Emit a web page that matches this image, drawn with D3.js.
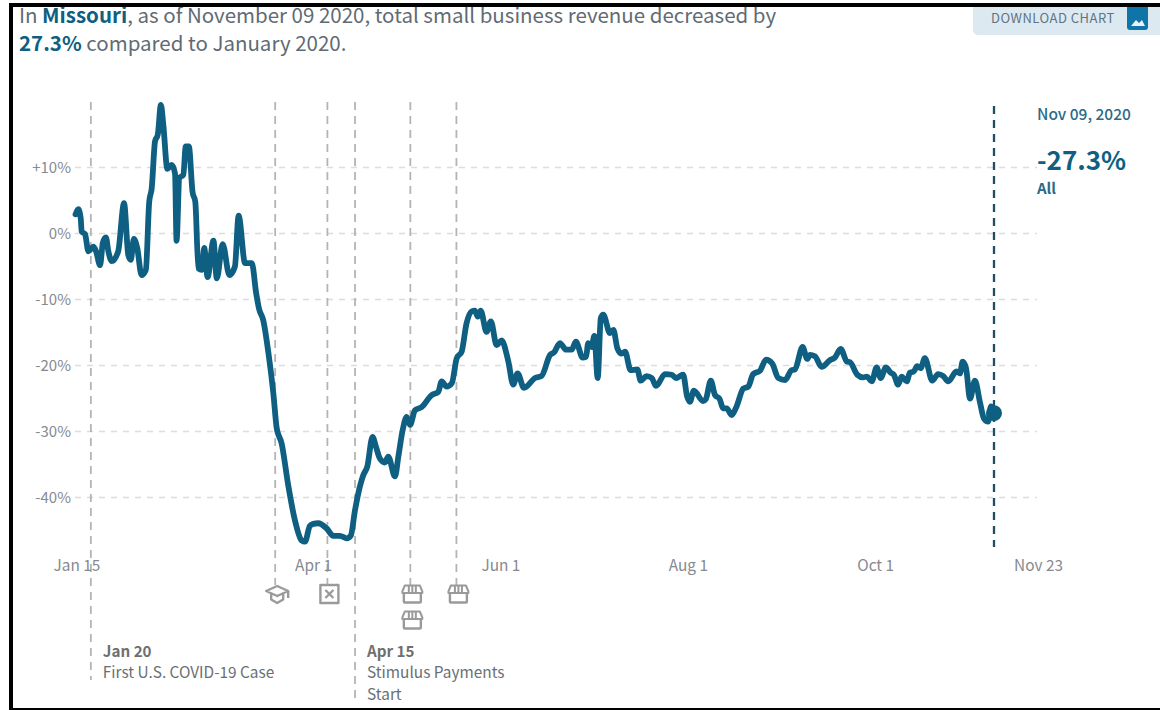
<!DOCTYPE html>
<html><head><meta charset="utf-8">
<script src="https://cdn.jsdelivr.net/npm/d3@7"></script>
<style>
html,body{margin:0;padding:0;background:#fff;overflow:hidden}
svg{display:block}
text{font-family:"Noto Sans CJK SC","Noto Sans",sans-serif}
</style></head><body>
<svg id="c" width="1160" height="710"></svg>
<script>
const dayOffsets=[0,0.9,1.7,2,3.1,4.2,5.8,6.7,8,8.9,9.9,10.7,11.8,13.9,15.8,17.2,18,19,20.1,21.5,22.9,24,24.8,25.9,26.8,27.8,28.6,29.9,31.3,32.4,32.9,33.8,35.1,35.9,36.9,38.1,39,40,41.1,41.9,43,44.9,46,47.9,50.1,51.9,53.1,55.2,57.4,58.8,59.8,61.1,62.8,64.4,65.5,67.1,69.3,71.4,73.6,74.7,76.3,77.4,79,81.8,83.9,86.1,88.3,89.6,91,92.6,93.7,95,96.7,97.8,99.1,100.7,101.8,104,105.1,106.5,107.8,108.9,110.5,112.7,115.9,118.1,119.2,120.8,122.5,124.1,125.7,127.3,129,130,131,131.9,133.8,135.2,137.1,138.7,140.9,142.5,143.9,146,149.6,151.7,154.5,155.8,157.7,159.7,161.5,162.9,165.1,166.2,166.9,168,168.9,170,171,171.8,174,175.1,176.4,177.8,178.9,180.7,182.9,184,185.9,187.6,189,191.9,194.1,195.5,197.8,199.1,200,201.3,204.3,205.2,206.8,208.2,209.6,210.9,212,213.6,215.2,217.4,219,220.6,222.8,224.8,226.8,228.8,231,233.1,234.2,236.7,238.2,239.1,240.7,242.9,245.6,247.2,249.1,251.1,252.1,254.5,256.4,257.7,259.2,260.8,262.1,263.8,265.4,266.4,267.8,268.9,270.6,271.6,272.9,274,275.1,276.5,278.9,280.8,282.5,284.1,286.8,287.9,288.8,289.9,291.2,292.8,294.4,295.7,297.1,298,299];
const revenueChange=[2.9,3.7,2.3,0.3,-0.1,-2.7,-2,-2.7,-4.8,-1.4,-0.6,-2.7,-4.2,-2.7,4.6,-3.3,-4,-0.8,-2.2,-6.3,-5.5,4.8,6.8,14,15,19.5,16.4,9.8,10.4,9.1,-1.1,8.4,8.9,13.2,13.2,6.3,4.8,-5.3,-5.5,-2.2,-6.6,-1.1,-6.8,-1.6,-6.3,-5,2.7,-4.5,-4.5,-9,-11.5,-13.1,-18.1,-24.2,-29.5,-31.8,-38.3,-43.4,-46.5,-46.7,-44.3,-44,-43.9,-44.7,-45.8,-45.8,-46.2,-45.8,-41.9,-38.3,-36.6,-35.3,-30.8,-32.3,-34.1,-34.7,-33.8,-36.8,-33.8,-29.8,-27.8,-29,-26.8,-26.3,-24.5,-24,-22.4,-23.2,-22.7,-18.9,-17.9,-13.6,-11.8,-11.7,-12.6,-11.7,-14.9,-13.3,-16.9,-16.2,-19.4,-22.9,-21.2,-23.4,-21.9,-21.6,-18.4,-18,-16.6,-17.6,-17.6,-16.4,-18.8,-18.7,-16.6,-17.2,-15.5,-21.9,-12.8,-12.3,-15.1,-14.6,-17.4,-18.2,-17.9,-20.7,-20.6,-22.3,-21.6,-21.9,-23.1,-21.3,-21.4,-21.9,-21.4,-24.7,-25.5,-23.8,-25.4,-25.1,-22.3,-24.5,-25,-26.5,-26.5,-27.5,-26.2,-23.5,-23.2,-21.3,-20.8,-19.1,-19.7,-21.9,-22.2,-20.7,-20.6,-17.2,-19,-18.4,-18.6,-20.2,-19.2,-18.8,-17.5,-19.4,-19.5,-21.4,-21.8,-21.7,-22.4,-20.3,-21.9,-20.3,-21.1,-21.4,-22.9,-21.7,-22.4,-21.1,-20.9,-20.1,-20.4,-18.9,-22.3,-21.3,-21.6,-22.4,-20.9,-21.2,-19.4,-20.4,-25,-22.3,-25.5,-28,-28.5,-26.2,-27.3];
const xTickDates=["2020-01-15","2020-04-01","2020-06-01","2020-08-01","2020-10-01","2020-11-23"];
const yTicks=[10,0,-10,-20,-30,-40];
const eventDates=["2020-01-20","2020-03-20","2020-04-06","2020-04-15","2020-05-03","2020-05-18"];
const eventKinds=["none","school","cross","none","store2","store"];
const eventEnds=[680,585,585,702,585,585];

const d0=Date.UTC(2020,0,15), day=864e5;
const svg=d3.select("#c");
const x=d3.scaleUtc().domain([new Date(d0),new Date("2020-11-23")]).range([75.5,1037]);
const y=d3.scaleLinear().domain([20,-50]).range([101.5,563.5]);
const pts=dayOffsets.map((d,i)=>({date:new Date(d0+d*day),v:revenueChange[i]}));
const last=pts[pts.length-1];
const teal="#0e5f82", grey="#858a90", text="#6b6f73";

// grid
svg.append("g").selectAll("line").data(yTicks).join("line")
 .attr("x1",75).attr("x2",1037).attr("y1",d=>y(d)).attr("y2",d=>y(d))
 .attr("stroke","#dcdcdc").attr("stroke-width",1.5).attr("stroke-dasharray","6,6");

// event lines
svg.append("g").selectAll("line").data(eventDates).join("line")
 .attr("x1",d=>x(new Date(d))).attr("x2",d=>x(new Date(d)))
 .attr("y1",102).attr("y2",(d,i)=>eventEnds[i])
 .attr("stroke","#b4b4b4").attr("stroke-width",1.8).attr("stroke-dasharray","8,6");

// y axis
const ya=svg.append("g").attr("transform","translate(71,0)")
 .call(d3.axisLeft(y).tickValues(yTicks).tickSize(0).tickPadding(0)
 .tickFormat(d=>d>0?`+${d}%`:`${d}%`));
ya.select(".domain").remove();
ya.selectAll("text").attr("font-size",15).attr("fill",grey).style("font-family",'"Noto Sans CJK SC"');

// x axis
const xa=svg.append("g").attr("transform","translate(1,571)")
 .call(d3.axisBottom(x).tickValues(xTickDates.map(d=>new Date(d))).tickSize(0).tickPadding(0)
 .tickFormat(d3.utcFormat("%b %-d")));
xa.select(".domain").remove();
xa.selectAll("text").attr("font-size",15.4).attr("fill",grey).attr("y",0).attr("dy",0).style("font-family",'"Noto Sans CJK SC"');

// latest-date line
svg.append("line").attr("x1",x(last.date)).attr("x2",x(last.date)).attr("y1",106).attr("y2",547)
 .attr("stroke","#1f4f66").attr("stroke-width",2.3).attr("stroke-dasharray","8,6");

// series
const line=d3.line().x(d=>x(d.date)).y(d=>y(d.v)).curve(d3.curveMonotoneX);
svg.append("path").datum(pts).attr("d",line).attr("fill","none").attr("stroke",teal)
 .attr("stroke-width",5.8).attr("stroke-linejoin","round").attr("stroke-linecap","round");
svg.append("circle").attr("cx",x(last.date)).attr("cy",y(last.v)-0.5).attr("r",8).attr("fill",teal);

// icons
const ig=svg.append("g").attr("fill","none").attr("stroke","#9a9a9a").attr("stroke-width",2.4).attr("stroke-linejoin","round");
function store(px,py){
 const g=ig.append("g").attr("transform",`translate(${px},${py})`);
 g.append("rect").attr("x",-8.5).attr("y",-2).attr("width",17).attr("height",10.5).attr("rx",1).attr("fill","#fff");
 g.append("path").attr("d","M-7.5,-8.5H7.5L10,-2.5V-1H-10V-2.5ZM-3.5,-8V-2M0,-8V-2M3.5,-8V-2").attr("fill","#fff").attr("stroke-width",2);
}
eventDates.forEach((d,i)=>{
 const px=x(new Date(d))+2, k=eventKinds[i], py=594;
 if(k==="store"){store(px,py);}
 if(k==="store2"){store(px,py);store(px,py+26);}
 if(k==="cross"){
  const g=ig.append("g").attr("transform",`translate(${px},${py})`);
  g.append("rect").attr("x",-9).attr("y",-9).attr("width",18).attr("height",18).attr("fill","#fff");
  g.append("path").attr("d","M-4,-4L4,4M4,-4L-4,4");
 }
 if(k==="school"){
  const g=ig.append("g").attr("transform",`translate(${px},${py})`);
  g.append("path").attr("d","M-11,-3L0,-8L11,-3L0,2Z").attr("fill","#fff");
  g.append("path").attr("d","M-6,0V5.5L0,9L6,5.5V0M11,-3V4");
 }
});

// annotations
function t(px,py,s,size,fill,weight){return svg.append("text").attr("x",px).attr("y",py).attr("font-size",size).attr("fill",fill).attr("font-weight",weight||400).text(s);}
const jan=x(new Date(eventDates[0]))+12, apr=x(new Date(eventDates[3]))+12;
t(jan,657,"Jan 20",15.2,"#6f6f6f",700);
t(jan,678,"First U.S. COVID-19 Case",15.4,text);
t(apr,657,"Apr 15",15.2,"#6f6f6f",700);
t(apr,678,"Stimulus Payments",15.4,text);
t(apr,700,"Start",15.4,text);

// right panel
const rx=1037;
t(rx,120,"Nov 09, 2020",15.5,"#2b6a88",500);
t(rx,170,"-27.3%",26,teal,700);
t(rx,194,"All",15,"#2b6a88",700);

// header
const h1=svg.append("text").attr("x",19).attr("y",23).attr("font-size",20.5).attr("fill","#5f6b74");
h1.append("tspan").text("In ");
h1.append("tspan").attr("font-weight",700).attr("fill",teal).text("Missouri");
h1.append("tspan").text(", as of November 09 2020, total small business revenue decreased by");
const h2=svg.append("text").attr("x",19).attr("y",51).attr("font-size",20.5).attr("fill","#5f6b74");
h2.append("tspan").attr("font-weight",700).attr("fill",teal).text("27.3%");
h2.append("tspan").text(" compared to January 2020.");

// download button
svg.append("path").attr("d","M973,5H1160V35H979Q973,35 973,29Z").attr("fill","#dce9f1");
t(991,23,"DOWNLOAD CHART",13,"#5f7484",400).attr("letter-spacing",0.5);
svg.append("rect").attr("x",1127).attr("y",5).attr("width",21).attr("height",25).attr("rx",3).attr("fill","#0f74a8");
svg.append("path").attr("d","M1131,26L1136,20L1139,23L1142,20L1145,26Z").attr("fill","#e8f1f6");

// frame
svg.append("rect").attr("x",9).attr("y",3).attr("width",1151).attr("height",4).attr("fill","#000");
svg.append("rect").attr("x",9).attr("y",3).attr("width",4).attr("height",707).attr("fill","#000");
svg.append("rect").attr("x",9).attr("y",708).attr("width",1151).attr("height",2).attr("fill","#000");
</script>
</body></html>
